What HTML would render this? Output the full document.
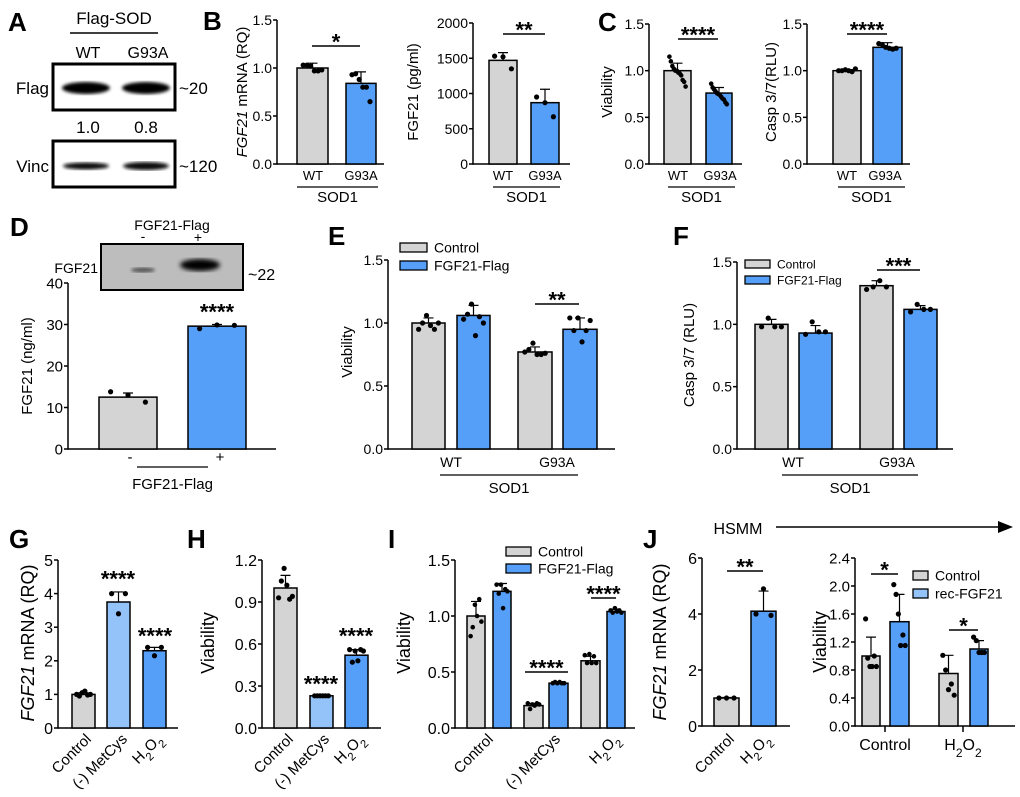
<!DOCTYPE html>
<html><head><meta charset="utf-8"><style>
html,body{margin:0;padding:0;background:#fff;}
svg{display:block;font-family:"Liberation Sans",Arial,sans-serif;}
</style></head><body>
<svg id="fig" width="1020" height="797" viewBox="0 0 1020 797" xmlns="http://www.w3.org/2000/svg">
<defs>
<filter id="blur1"><feGaussianBlur stdDeviation="1.5"/></filter>
<filter id="blur2"><feGaussianBlur stdDeviation="2.5"/></filter>
</defs>
<g>
<text x="8" y="31" font-size="26" font-weight="bold">A</text>
<text x="114" y="24" font-size="17" text-anchor="middle">Flag-SOD</text>
<line x1="70" y1="33" x2="158" y2="33" stroke="#000" stroke-width="1.5"/>
<text x="88" y="58" font-size="16" text-anchor="middle">WT</text>
<text x="148" y="58" font-size="16" text-anchor="middle">G93A</text>
<rect x="53" y="64" width="122" height="46" fill="#fff" stroke="#000" stroke-width="3"/>
<ellipse cx="86" cy="88" rx="24" ry="6" fill="#000" filter="url(#blur1)"/>
<ellipse cx="146" cy="88" rx="24" ry="6" fill="#000" filter="url(#blur1)"/>
<text x="49" y="94" font-size="17" text-anchor="end">Flag</text>
<text x="179" y="94" font-size="17">~20</text>
<text x="88" y="133" font-size="17" text-anchor="middle">1.0</text>
<text x="146" y="133" font-size="17" text-anchor="middle">0.8</text>
<rect x="53" y="141" width="122" height="46" fill="#fff" stroke="#000" stroke-width="3"/>
<ellipse cx="86" cy="166" rx="23" ry="3.5" fill="#111" filter="url(#blur1)"/>
<ellipse cx="146" cy="166" rx="23" ry="4" fill="#111" filter="url(#blur1)"/>
<text x="49" y="172" font-size="17" text-anchor="end">Vinc</text>
<text x="179" y="172" font-size="17">~120</text>
</g>
<g>
<text x="172" y="230" font-size="14" text-anchor="middle">FGF21-Flag</text>
<text x="143" y="241" font-size="14" text-anchor="middle">-</text>
<text x="198" y="242" font-size="14" text-anchor="middle">+</text>
<rect x="101" y="244" width="142" height="46" fill="#bdbdbd" stroke="#000" stroke-width="2"/>
<ellipse cx="143" cy="270" rx="12" ry="2.5" fill="#555" filter="url(#blur1)"/>
<ellipse cx="200" cy="265" rx="20" ry="6" fill="#000" filter="url(#blur2)"/>
<text x="98" y="273" font-size="14" text-anchor="end">FGF21</text>
<text x="248" y="280" font-size="16">~22</text>
</g>
<g>
<text x="738" y="534" font-size="16" text-anchor="middle">HSMM</text>
<line x1="776" y1="527" x2="1000" y2="527" stroke="#000" stroke-width="1.5"/>
<polygon points="998,521 1013,527 998,533" fill="#000"/>
</g>
</svg>
<script>
// ---- data ----
const bMrnaVals=[1.0,0.84];
const bMrnaErr=[0.05,0.12];
const bMrnaDots=[[1.03,1.03,1.02,0.97,0.97,0.98],[0.93,0.94,0.88,0.80,0.80,0.65]];
const bProtVals=[1470,870];
const bProtErr=[110,190];
const bProtDots=[[1530,1520,1350],[950,870,670]];
const cViabVals=[1.0,0.76];
const cViabErr=[0.08,0.06];
const cViabDots=[[1.15,1.1,1.05,1.02,1.0,1.0,0.98,0.97,0.95,0.9,0.88,0.83],[0.86,0.82,0.8,0.78,0.76,0.75,0.74,0.72,0.7,0.69,0.66,0.64]];
const cCaspVals=[1.0,1.25];
const cCaspErr=[0.01,0.05];
const cCaspDots=[[1.0,1.0,1.01,1.0,0.99,1.02],[1.29,1.28,1.25,1.24,1.23,1.24]];
const dVals=[12.5,29.6];
const dErr=[1.0,0.4];
const dDots=[[13.8,13.0,11.3],[29.0,29.9,29.8]];
const eVals=[1.0,1.06,0.77,0.95];
const eErr=[0.04,0.08,0.04,0.09];
const eDots=[[0.95,1.0,1.06,0.98,0.95,1.0],[1.03,1.07,1.15,0.9,1.05,1.0],[0.77,0.79,0.84,0.75,0.75,0.76],[1.04,0.94,1.04,0.85,0.94,1.02]];
const fVals=[1.0,0.93,1.31,1.12];
const fErr=[0.04,0.06,0.04,0.03];
const fDots=[[0.98,1.05,0.98,0.98],[0.92,1.02,0.94,0.94],[1.28,1.3,1.35,1.3],[1.1,1.16,1.12,1.12]];
const gVals=[1.0,3.75,2.3];
const gErr=[0.05,0.3,0.1];
const gDots=[[1.0,0.95,1.05,1.1,0.98,1.0],[4.0,3.4,4.0],[2.4,2.15,2.4]];
const hVals=[1.0,0.23,0.52];
const hErr=[0.09,0.01,0.04];
const hDots=[[0.93,1.05,1.14,1.02,0.92,0.94],[0.23,0.23,0.23,0.23,0.23,0.23],[0.56,0.47,0.55,0.48,0.56,0.55]];
const iVals=[1.0,1.22,0.2,0.4,0.6,1.04];
const iErr=[0.13,0.07,0.02,0.01,0.04,0.02];
const iDots=[[0.82,0.9,1.1,1.0,1.15,0.95],[1.28,1.2,1.28,1.07,1.24,1.22],[0.22,0.17,0.21,0.2,0.22,0.21],[0.4,0.41,0.4,0.41,0.4,0.4],[0.65,0.58,0.66,0.58,0.64,0.58],[1.05,1.03,1.07,1.04,1.05,1.03]];
const j1Vals=[1.0,4.1];
const j1Err=[0.02,0.72];
const j1Dots=[[1.0,1.0,1.0],[4.0,4.9,3.95]];
const j2Vals=[1.0,1.49,0.75,1.1];
const j2Err=[0.27,0.39,0.26,0.12];
const j2Dots=[[1.53,0.97,0.85,0.85,1.0,0.85],[2.02,1.88,1.6,1.15,1.3,1.15],[1.01,0.8,0.52,0.6,0.44],[1.27,1.22,1.05,1.05,1.05]];

const GRAY='#d4d4d4', BLUE='#559ff8', LBLUE='#94c3fa';
const svg=document.getElementById('fig');
const NS='http://www.w3.org/2000/svg';
function mk(tag,attrs,parent){const e=document.createElementNS(NS,tag);for(const k in attrs)e.setAttribute(k,attrs[k]);(parent||svg).appendChild(e);return e;}
function txt(x,y,s,size,anchor,parent,extra){const t=mk('text',Object.assign({x:x,y:y,'font-size':size,'text-anchor':anchor||'middle'},extra||{}),parent);t.textContent=s;return t;}
function h2o2(t){t.textContent='';const a=mk('tspan',{},t);a.textContent='H';const b=mk('tspan',{'baseline-shift':'sub','font-size':'75%'},t);b.textContent='2';const c=mk('tspan',{},t);c.textContent='O';const d=mk('tspan',{'baseline-shift':'sub','font-size':'75%'},t);d.textContent='2';}

function panel(p){
  const g=mk('g',{});
  
  
  const ys=v=>p.y0-(v/p.max)*(p.y0-p.yTop);
  const ax=mk('line',{x1:p.ax,y1:p.yTop,x2:p.ax,y2:p.y0+0.75,stroke:'#000','stroke-width':1.5},g);
  
  
  const xa=mk('line',{x1:p.ax,y1:p.y0,x2:p.xEnd,y2:p.y0,stroke:'#000','stroke-width':1.5},g);
  
  
  p.ticks.forEach((tv,i)=>{
    const y=ys(tv);
    mk('line',{x1:p.ax-4,y1:y,x2:p.ax,y2:y,stroke:'#000','stroke-width':1.5},g);
    const t=txt(p.ax-5,y+p.fs*0.36,p.tickLabels[i],p.fs,'end',g);
    
    
  });
  const yt=mk('text',{x:0,y:0,'font-size':p.yfs,'text-anchor':'middle',transform:`translate(${p.ylx},${p.yly}) rotate(-90)`},g);
  if(p.yItal){const a=mk('tspan',{'font-style':'italic'},yt);a.textContent=p.yItal;const b=mk('tspan',{},yt);b.textContent=p.ytitle;}
  else yt.textContent=p.ytitle;
  
  
  p.vals.forEach((v,i)=>{
    const [x1,x2]=p.pos[i];const w=x2-x1;const cx=(x1+x2)/2;
    const top=ys(v);
    const r=mk('rect',{x:x1,y:top,width:w,height:p.y0-top,fill:p.colors[i],stroke:'#000','stroke-width':1.5},g);
    
    
    const ey=ys(v+p.err[i]);
    const el=mk('path',{d:`M${cx},${top}V${ey}M${cx-5},${ey}H${cx+5}`,stroke:'#000','stroke-width':1.2,fill:'none'},g);
    
    
    const d=p.dots[i];const n=d.length;
    d.forEach((dv,k)=>{
      const dx=n>1?x1+w*0.2+(w*0.6)*k/(n-1):cx;
      const c=mk('circle',{cx:dx,cy:ys(dv),r:p.dr||2.6,fill:'#000'},g);
      
      
    });
  });
  (p.sig||[]).forEach(s=>{
    if(s.line){mk('line',{x1:s.x1,y1:s.y,x2:s.x2,y2:s.y,stroke:'#000','stroke-width':1.5},g);}
    const fs=22;
    const center=s.line? s.y-9 : s.y;
    const st=txt((s.x1+s.x2)/2,center+0.56*fs,s.t,fs,'middle',g,{'font-weight':'bold'});
    
    
  });
  return {g,ys};
}
function xlab(g,x,y,s,fs){const t=txt(x,y,s,fs,'middle',g);return t;}
function rlab(g,x,y,s,fs,isH){const t=mk('text',{x:0,y:0,'font-size':fs,'text-anchor':'end',transform:`translate(${x},${y}) rotate(-45)`},g);t.textContent=s;if(isH)h2o2(t);return t;}
function under(g,x1,x2,y,label,ly,fs){mk('line',{x1:x1,y1:y,x2:x2,y2:y,stroke:'#000','stroke-width':1.3},g);if(label){const t=txt((x1+x2)/2,ly,label,fs,'middle',g);}}
function legend(g,x,y,items,fs,bw,bh,gap){items.forEach((it,i)=>{const yy=y+i*gap;const r=mk('rect',{x:x,y:yy,width:bw,height:bh,fill:it[1],stroke:'#000','stroke-width':1.3},g);const t=txt(x+bw+7,yy+bh/2+fs*0.36,it[0],fs,'start',g);});}
function letter(s,x,y){const t=txt(x,y,s,26,'start',svg,{'font-weight':'bold'});}

let P=panel({name:'panel-b-fgf21-mrna',ax:277,y0:164,yTop:20,max:1.5,xEnd:384,ticks:[0,0.5,1,1.5],tickLabels:['0.0','0.5','1.0','1.5'],fs:14,
  ytitle:' mRNA (RQ)',yItal:'FGF21',yfs:15,ylx:247,yly:92,vals:bMrnaVals,err:bMrnaErr,dots:bMrnaDots,pos:[[297,328],[346,376]],colors:[GRAY,BLUE],
  sig:[{x1:312,x2:360,y:46,t:'*',line:1}]});
xlab(P.g,313,180,'WT',13);xlab(P.g,361,180,'G93A',13);under(P.g,297,378,187,'SOD1',202,15);
letter('B',203,30);
P=panel({name:'panel-b-fgf21-protein',ax:473,y0:164,yTop:23,max:2000,xEnd:570,ticks:[0,500,1000,1500,2000],tickLabels:['0','500','1000','1500','2000'],fs:14,
  ytitle:'FGF21 (pg/ml)',yfs:15,ylx:418,yly:92,vals:bProtVals,err:bProtErr,dots:bProtDots,pos:[[489,517],[531,559]],colors:[GRAY,BLUE],
  sig:[{x1:503,x2:545,y:34,t:'**',line:1}]});
xlab(P.g,503,180,'WT',13);xlab(P.g,545,180,'G93A',13);under(P.g,493,560,187,'SOD1',202,15);
letter('C',598,31);
P=panel({name:'panel-c-viability',ax:649,y0:164,yTop:24,max:1.5,xEnd:742,ticks:[0,0.5,1,1.5],tickLabels:['0.0','0.5','1.0','1.5'],fs:14,
  ytitle:'Viability',yfs:15,ylx:612,yly:92,vals:cViabVals,err:cViabErr,dots:cViabDots,pos:[[664,691],[706,732]],colors:[GRAY,BLUE],dr:2.3,
  sig:[{x1:678,x2:718,y:39,t:'****',line:1}]});
xlab(P.g,678,180,'WT',13);xlab(P.g,720,180,'G93A',13);under(P.g,668,735,187,'SOD1',202,15);
P=panel({name:'panel-c-caspase',ax:807,y0:164,yTop:24,max:1.5,xEnd:910,ticks:[0,0.5,1,1.5],tickLabels:['0.0','0.5','1.0','1.5'],fs:14,
  ytitle:'Casp 3/7(RLU)',yfs:15,ylx:776,yly:92,vals:cCaspVals,err:cCaspErr,dots:cCaspDots,pos:[[833,861],[873,902]],colors:[GRAY,BLUE],
  sig:[{x1:847,x2:887,y:34,t:'****',line:1}]});
xlab(P.g,847,180,'WT',13);xlab(P.g,885,180,'G93A',13);under(P.g,838,905,187,'SOD1',202,15);
letter('D',10,236);
P=panel({name:'panel-d-fgf21-secreted',ax:68,y0:449,yTop:283,max:40,xEnd:276,ticks:[0,10,20,30,40],tickLabels:['0','10','20','30','40'],fs:15,
  ytitle:'FGF21 (ng/ml)',yfs:15,ylx:32,yly:366,vals:dVals,err:dErr,dots:dDots,pos:[[99,157],[188,246]],colors:[GRAY,BLUE],
  sig:[{x1:195,x2:239,y:307,t:'****',line:0}]});
xlab(P.g,130,462,'-',15);xlab(P.g,220,462,'+',15);under(P.g,137,208,467,'FGF21-Flag',489,15);
letter('E',328,245);
P=panel({name:'panel-e-viability',ax:388,y0:449,yTop:260,max:1.5,xEnd:615,ticks:[0,0.5,1,1.5],tickLabels:['0.0','0.5','1.0','1.5'],fs:14,
  ytitle:'Viability',yfs:15,ylx:352,yly:352,vals:eVals,err:eErr,dots:eDots,pos:[[412,445],[457,490],[518,552],[563,597]],colors:[GRAY,BLUE,GRAY,BLUE],
  sig:[{x1:535,x2:579,y:304,t:'**',line:1}]});
legend(P.g,400,243,[['Control',GRAY],['FGF21-Flag',BLUE]],14,27,9,18);
xlab(P.g,451,467,'WT',14);xlab(P.g,557,467,'G93A',14);under(P.g,440,578,475,'SOD1',493,15);
letter('F',673,245);
P=panel({name:'panel-f-caspase',ax:737,y0:449,yTop:262,max:1.5,xEnd:953,ticks:[0,0.5,1,1.5],tickLabels:['0.0','0.5','1.0','1.5'],fs:14,
  ytitle:'Casp 3/7 (RLU)',yfs:15,ylx:694,yly:355,vals:fVals,err:fErr,dots:fDots,pos:[[755,788],[799,832],[860,893],[904,937]],colors:[GRAY,BLUE,GRAY,BLUE],
  sig:[{x1:877,x2:920,y:270,t:'***',line:1}]});
legend(P.g,745,260,[['Control',GRAY],['FGF21-Flag',BLUE]],12,25,8,16);
xlab(P.g,793,467,'WT',14);xlab(P.g,897,467,'G93A',14);under(P.g,782,918,475,'SOD1',493,15);
letter('G',9,548);
P=panel({name:'panel-g-fgf21-mrna',ax:58,y0:728,yTop:560,max:5,xEnd:178,ticks:[0,1,2,3,4,5],tickLabels:['0','1','2','3','4','5'],fs:16,
  ytitle:' mRNA (RQ)',yItal:'FGF21',yfs:18,ylx:34,yly:643,vals:gVals,err:gErr,dots:gDots,pos:[[72,95],[107,130],[143,166]],colors:[GRAY,LBLUE,BLUE],
  sig:[{x1:98,x2:138,y:574,t:'****'},{x1:134,x2:176,y:631,t:'****'}]});
rlab(P.g,92,740,'Control',15);rlab(P.g,128,740,'(-) MetCys',15);rlab(P.g,163,740,'H2O2',15,1);
letter('H',187,548);
P=panel({name:'panel-h-viability',ax:262,y0:728,yTop:560,max:1.2,xEnd:381,ticks:[0,0.3,0.6,0.9,1.2],tickLabels:['0.0','0.3','0.6','0.9','1.2'],fs:16,
  ytitle:'Viability',yfs:18,ylx:214,yly:643,vals:hVals,err:hErr,dots:hDots,pos:[[274,297],[310,333],[345,368]],colors:[GRAY,LBLUE,BLUE],
  sig:[{x1:300,x2:342,y:679,t:'****'},{x1:334,x2:378,y:631,t:'****'}]});
rlab(P.g,294,740,'Control',15);rlab(P.g,330,740,'(-) MetCys',15);rlab(P.g,365,740,'H2O2',15,1);
letter('I',388,548);
P=panel({name:'panel-i-viability',ax:455,y0:728,yTop:560,max:1.5,xEnd:635,ticks:[0,0.5,1,1.5],tickLabels:['0.0','0.5','1.0','1.5'],fs:16,
  ytitle:'Viability',yfs:18,ylx:410,yly:643,vals:iVals,err:iErr,dots:iDots,pos:[[467,485],[493,511],[524,543],[549,568],[581,600],[607,625]],colors:[GRAY,BLUE,GRAY,BLUE,GRAY,BLUE],dr:2.3,
  sig:[{x1:525,x2:568,y:672,t:'****',line:1},{x1:591,x2:616,y:598,t:'****',line:1}]});
legend(P.g,506,547,[['Control',GRAY],['FGF21-Flag',BLUE]],14,25,9,17);
rlab(P.g,494,740,'Control',15);rlab(P.g,561,740,'(-) MetCys',15);rlab(P.g,620,740,'H2O2',15,1);
letter('J',643,548);
P=panel({name:'panel-j-fgf21-mrna',ax:702,y0:726,yTop:558,max:6,xEnd:790,ticks:[0,2,4,6],tickLabels:['0','2','4','6'],fs:16,
  ytitle:' mRNA (RQ)',yItal:'FGF21',yfs:18,ylx:666,yly:642,vals:j1Vals,err:j1Err,dots:j1Dots,pos:[[714,739],[751,776]],colors:[GRAY,BLUE],
  sig:[{x1:727,x2:763,y:571,t:'**',line:1}]});
rlab(P.g,735,740,'Control',15);rlab(P.g,771,740,'H2O2',15,1);
P=panel({name:'panel-j-viability',ax:855,y0:726,yTop:558,max:2.4,xEnd:1015,ticks:[0,0.4,0.8,1.2,1.6,2.0,2.4],tickLabels:['0.0','0.4','0.8','1.2','1.6','2.0','2.4'],fs:15,
  ytitle:'Viability',yfs:18,ylx:826,yly:642,vals:j2Vals,err:j2Err,dots:j2Dots,pos:[[862,880],[890,909],[939,958],[970,988]],colors:[GRAY,BLUE,GRAY,BLUE],
  sig:[{x1:871,x2:898,y:574,t:'*',line:1},{x1:949,x2:978,y:630,t:'*',line:1}]});
legend(P.g,913,571,[['Control',GRAY],['rec-FGF21',LBLUE]],14,15,9,18);
mk('line',{x1:885,y1:726,x2:885,y2:732,stroke:'#000','stroke-width':1.5},P.g);
mk('line',{x1:963,y1:726,x2:963,y2:732,stroke:'#000','stroke-width':1.5},P.g);
xlab(P.g,885,750,'Control',16);
const hl=xlab(P.g,963,750,'H2O2',16);h2o2(hl);
</script>
</body></html>
